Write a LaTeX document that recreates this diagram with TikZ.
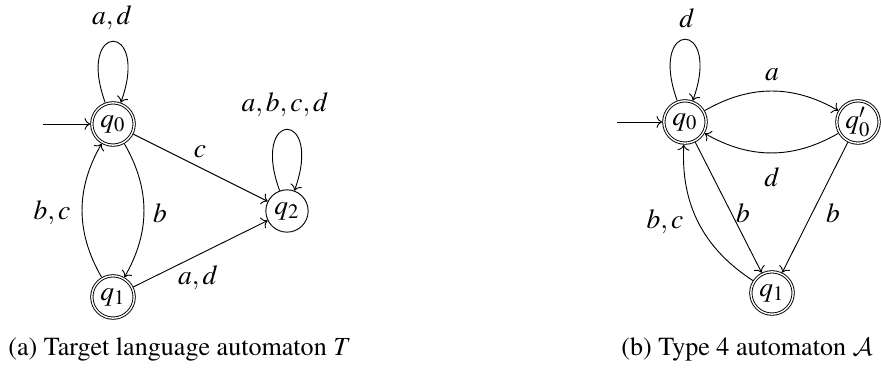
\documentclass[tikz,border=0pt]{standalone}
\usepackage[T1]{fontenc}
\usepackage{mathptmx}
\DeclareMathAlphabet{\mathcal}{OMS}{cmsy}{m}{n}
\usetikzlibrary{arrows.meta}
\begin{document}
\begin{tikzpicture}[x=0.437pt,y=0.437pt,line width=0.4pt,
  st/.style={circle,draw,minimum size=18.5pt,inner sep=0pt,outer sep=0.2pt,font=\fontsize{12}{14}\selectfont},
  acc/.style={st,double,double distance=0.6pt,outer sep=0.7pt},
  lbl/.style={inner sep=0pt,font=\fontsize{12}{14}\selectfont},
  captext/.style={inner sep=0pt,anchor=west,font=\rmfamily\fontsize{11.4}{13}\selectfont},
  edge/.style={->},
  loopup/.style={->,out=110,in=70,distance=38pt}]
\path[use as bounding box] (0,0) rectangle (881,377);

% (a) target language automaton
\node[acc] (a0) at (113,253) {$q_0$};
\node[acc] (a1) at (113,80) {$q_1$};
\node[st]  (a2) at (287,166) {$q_2$};
\coordinate (ain) at (43,253);
\draw[edge] (ain) -- (a0);
\draw[loopup] (a0) to (a0);
\draw[loopup] (a2) to (a2);
\draw[edge] (a0) -- (a2);
\draw[edge] (a1) -- (a2);
\draw[edge] (a0) to[bend left=30] (a1);
\draw[edge] (a1) to[bend left=30] (a0);
\node[lbl] (la00) at (112,359) {$a,d$};
\node[lbl] (la22) at (285,272) {$a,b,c,d$};
\node[lbl] (la02) at (200,225) {$c$};
\node[lbl] (la12) at (198,99) {$a,d$};
\node[lbl] (la01) at (160,164) {$b$};
\node[lbl] (la10) at (52,164) {$b,c$};
\node[captext] (capa) at (8,28) {(a) Target language automaton $T$};

% (b) type 4 automaton
\node[acc] (b0) at (685,255) {$q_0$};
\node[acc] (b0p) at (858,255) {$q_0'$};
\node[acc] (b1) at (772,84) {$q_1$};
\coordinate (bin) at (617,255);
\draw[edge] (bin) -- (b0);
\draw[loopup] (b0) to (b0);
\draw[edge] (b0) to[bend left=30] (b0p);
\draw[edge] (b0p) to[bend left=30] (b0);
\draw[edge] (b0) -- (b1);
\draw[edge] (b0p) -- (b1);
\draw[edge] (b1) to[bend left=30] (b0);
\node[lbl] (lb00) at (687,359) {$d$};
\node[lbl] (lb0p) at (772,302) {$a$};
\node[lbl] (lbp0) at (772,200) {$d$};
\node[lbl] (lb01) at (743,164) {$b$};
\node[lbl] (lbp1) at (833,164) {$b$};
\node[lbl] (lb10) at (665,155) {$b,c$};
\node[captext] (capb) at (621,28) {(b) Type 4 automaton $\mathcal{A}$};
\end{tikzpicture}
\end{document}
